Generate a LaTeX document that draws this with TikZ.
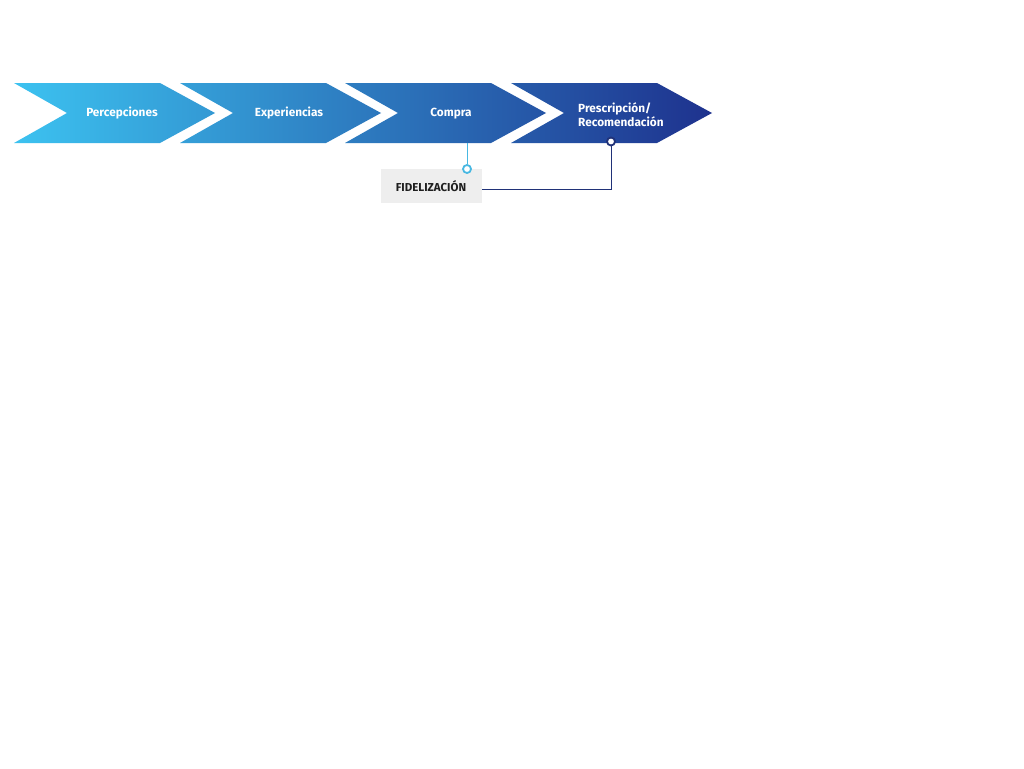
\documentclass[tikz,border=0pt]{standalone}
\usepackage{fontspec}
\setmainfont{Fira Sans}
\definecolor{gA}{RGB}{60,194,240}
\definecolor{gB}{RGB}{36,122,198}
\definecolor{gC}{RGB}{30,50,142}
\definecolor{cyanline}{RGB}{72,184,226}
\definecolor{navyline}{RGB}{32,50,120}
\definecolor{boxgray}{RGB}{238,238,238}
\definecolor{boxtext}{RGB}{30,30,30}
\tikzset{
  lbl/.style={text=white, font=\fontsize{11.8}{14}\selectfont\bfseries, inner sep=0},
  dot/.style={circle, fill=white, line width=1.8pt, inner sep=0, minimum size=8pt},
  conn/.style={line width=0.9pt},
}
\begin{document}
\begin{tikzpicture}[x=1pt,y=-1pt]
\useasboundingbox[fill=white] (0,0) rectangle (1024,768);
\shade[left color=gA, middle color=gB, right color=gC]
  (14,83) -- (160,83) -- (215,113) -- (160,143) -- (14,143) -- (67,113) -- cycle
  (180,83) -- (326,83) -- (381,113) -- (326,143) -- (180,143) -- (233,113) -- cycle
  (345,83) -- (491,83) -- (546,113) -- (491,143) -- (345,143) -- (398,113) -- cycle
  (511,83) -- (657,83) -- (712,113) -- (657,143) -- (511,143) -- (564,113) -- cycle;
\node[lbl] (p1) at (122,113.5) {Percepciones};
\node[lbl] (p2) at (289,113.5) {Experiencias};
\node[lbl] (p3) at (451,113.5) {Compra};
\node[lbl, anchor=west, align=left] (p4) at (578,114.5) {Prescripción/\\Recomendación};
\node[fill=boxgray, minimum width=101pt, minimum height=34pt, inner sep=0,
      font=\fontsize{11.5}{13}\selectfont\bfseries, text=boxtext] (f) at (431,186) {FIDELIZACIÓN};
\coordinate (c3b) at (467,143);
\node[dot, draw=cyanline] (d1) at (467,169) {};
\node[dot, draw=navyline] (d2) at (611,141.5) {};
\draw[conn, cyanline] (c3b) -- (d1);
\draw[conn, navyline] (d2) |- ([yshift=-3pt]f.east);
\end{tikzpicture}
\end{document}
